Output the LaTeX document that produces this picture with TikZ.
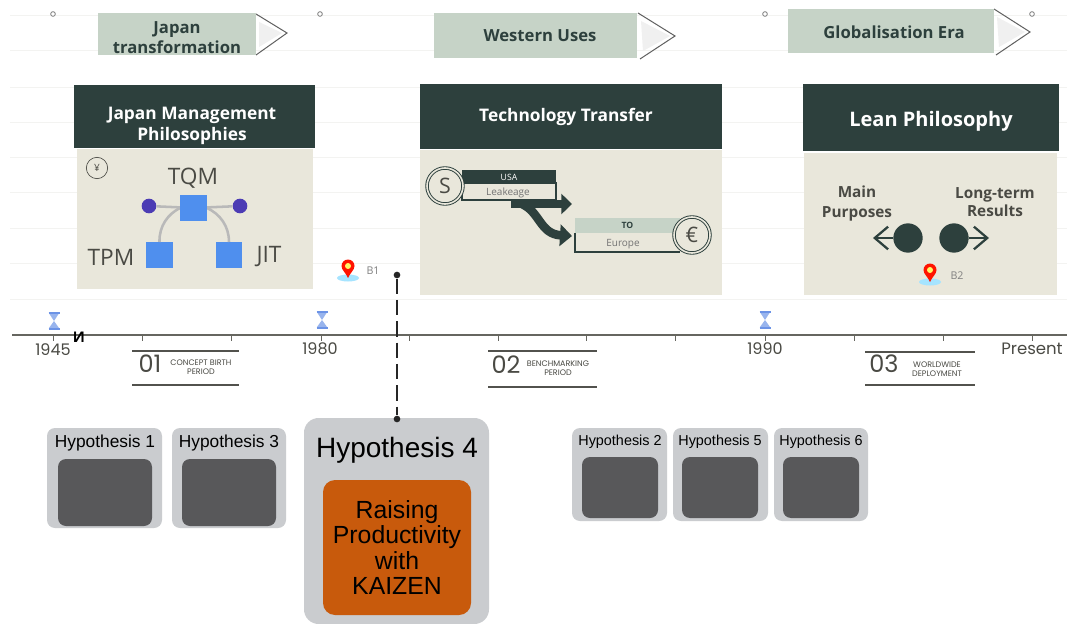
\documentclass[tikz,border=0pt]{standalone}
\usepackage{fontspec}
\setmainfont{Open Sans}
\newfontfamily\popf{Poppins}
\newfontfamily\libf{Liberation Sans}
\usetikzlibrary{arrows.meta}
\definecolor{bannerc}{HTML}{C6D3C7}
\definecolor{darkc}{HTML}{2D403D}
\definecolor{bodyc}{HTML}{E9E7DB}
\definecolor{bluec}{HTML}{4F8FEE}
\definecolor{purplec}{HTML}{4C3CB4}
\definecolor{hypc}{HTML}{CACCCF}
\definecolor{innerc}{HTML}{58585A}
\definecolor{orangec}{HTML}{C85A0C}
\definecolor{gridc}{HTML}{F3F3F1}
\definecolor{textc}{HTML}{4A4A44}
\definecolor{axisc}{HTML}{666660}
\definecolor{glassc}{HTML}{6C93E6}
\newcommand\fsz[2]{\fontsize{#1}{#2}\selectfont}
% \bx[style]{name}{x1}{y1}{x2}{y2}{text}
\newcommand\bx[7][]{\node[rawbox,#1,minimum width={(#5-#3)*0.75pt},minimum height={(#6-#4)*0.75pt}] (#2) at ({(#3+#5)/2},{(#4+#6)/2}) {#7};}
% \pinmark{name}{x}{y}
\newcommand\pinmark[3]{%
  \fill[blue!30!cyan!35] (#2,#3+8) ellipse [x radius=11,y radius=3.5];
  \fill[red!85!orange] (#2,#3+8) .. controls (#2-2,#3+3) and (#2-6.5,#3) .. (#2-6.5,#3-4) arc[start angle=180,end angle=0,x radius=6.5,y radius=-6.5] .. controls (#2+6.5,#3) and (#2+2,#3+3) .. (#2,#3+8) -- cycle;
  \node[circle,fill=yellow!60!white,inner sep=0,minimum size=6*0.75pt] (#1) at (#2,#3-4) {};}
% \glass{name}{x}{y}
\newcommand\glass[3]{%
  \fill[glassc!70] (#2-4.5,#3-7) -- (#2+4.5,#3-7) -- (#2,#3) -- (#2+5,#3+7) -- (#2-5,#3+7) -- (#2,#3) -- cycle;
  \draw[glassc,line width=1.2pt] (#2-5.5,#3-8) -- (#2+5.5,#3-8) (#2-5.5,#3+8) -- (#2+5.5,#3+8);
  \coordinate (#1) at (#2,#3);}
\newcommand\chev[6]{%
  \fill[gray!12] (#1+3,#2+8) -- (#3-5,#4) -- (#5+3,#6-8) -- cycle;
  \draw[gray!75!black,line width=0.75pt] (#1,#2) -- (#3,#4) -- (#5,#6);}
\tikzset{
  rawbox/.style={inner sep=0,outer sep=0,draw=none,align=center},
  banner/.style={fill=bannerc},
  bannert/.style={inner sep=0,align=center,text=darkc,font=\bfseries\fsz{12.5}{15}},
  head/.style={fill=darkc},
  headt/.style={inner sep=0,align=center,text=white,font=\bfseries\fsz{13}{15.75}},
  panel/.style={fill=bodyc},
  lbl/.style={inner sep=0,align=center,text=textc},
  sq/.style={fill=bluec},
  conn/.style={line width=1.9pt,gray!55},
  hyp/.style={fill=hypc,rounded corners=6pt,text=black},
  hypin/.style={fill=innerc,rounded corners=6pt},
  dotn/.style={circle,fill=black!85,inner sep=0,minimum size=5pt},
  tick/.style={axisc,line width=0.5pt},
  rulel/.style={axisc!80!black,line width=1.3pt},
  coin/.style={circle,draw=darkc,line width=0.7pt,fill=bodyc,inner sep=0,minimum size=27pt,double=bodyc,double distance=1.2pt,text=textc,font=\fsz{16}{16}},
}
\begin{document}
\begin{tikzpicture}[x=0.75pt,y=-0.75pt]
\useasboundingbox (0,0) rectangle (1067,624);
\fill[white] (0,0) rectangle (1067,624);
% faint rules
\foreach \yy in {15,50,87,122,157,192,228,263,299}
  \draw[gridc,line width=0.6pt] (10,\yy) -- (1067,\yy);
% small markers
\foreach \nm/\xx in {ma/53,mb/320,mc/765,md/1032}
  \node[circle,draw=gray,line width=0.6pt,fill=white,inner sep=0,minimum size=3.5pt] (\nm) at (\xx,14) {};
% banners
\chev{256}{14}{287}{33}{256}{55}
\chev{638}{13}{675}{36}{640}{59}
\chev{994}{9}{1030}{32}{996}{55}
\bx[banner]{bannerA}{98}{13}{256}{55}{}
\bx[banner]{bannerB}{434}{13}{637}{58}{}
\bx[banner]{bannerC}{788}{9}{994}{53}{}
\node[bannert] (bta) at (177,38) {Japan\\transformation};
\node[bannert] (btb) at (540,36) {Western Uses};
\node[bannert] (btc) at (894,32) {Globalisation Era};
% panels
\bx[panel]{bodyA}{77}{149}{313}{289}{}
\bx[panel]{bodyB}{420}{150}{722}{295}{}
\bx[panel]{bodyC}{804}{153}{1057}{295}{}
\bx[head]{headA}{74}{85}{315}{148}{}
\bx[head]{headB}{420}{84}{722}{149}{}
\bx[head]{headC}{803}{84}{1059}{151}{}
\node[headt] (hta) at (192,126) {Japan Management\\Philosophies};
\node[headt] (htb) at (566,117) {Technology Transfer};
\node[headt,font=\bfseries\fsz{15}{18}] (htc) at (931,121) {Lean Philosophy};
% panel A
\node[circle,draw=textc,line width=0.5pt,inner sep=0,minimum size=16pt,text=textc,font=\fsz{7.5}{8}] (yen) at (97,168) {¥};
\bx[sq]{tqm}{180}{195}{207}{221}{}
\bx[sq]{tpm}{146}{242}{173}{268}{}
\bx[sq]{jit}{216}{242}{242}{268}{}
\node[circle,fill=purplec,inner sep=0,minimum size=11pt] (dl) at (149,206) {};
\node[circle,fill=purplec,inner sep=0,minimum size=11pt] (dr) at (240,206) {};
\draw[conn] (dl) -- (tqm) (tqm) -- (dr);
\draw[conn] (tpm.north) .. controls (159,226) and (168,214) .. (tqm.west);
\draw[conn] (jit.north) .. controls (229,226) and (220,214) .. (tqm.east);
\bx[sq]{tqmt}{180}{195}{207}{221}{}
\node[lbl,font=\fsz{17}{17}] (tqml) at (193,178) {TQM};
\node[lbl,font=\fsz{17}{17}] (tpml) at (111,257) {TPM};
\node[lbl,font=\fsz{17}{17}] (jitl) at (269,257) {JIT};
% panel B
\bx[fill=bodyc,draw=darkc,line width=1pt]{lk}{462}{183}{556}{200}{}
\bx[fill=darkc,text=white,font=\fsz{6.5}{7}]{usa}{462}{170}{556}{184}{USA}
\node[lbl,font=\fsz{7.5}{8},text=gray!90!black] (lkt) at (508,192.5) {Leakeage};
\node[coin] (dollar) at (445,186) {S};
\bx[fill=bodyc]{eu}{575}{233}{680}{252}{}
\draw[darkc,line width=1.2pt] (eu.north west) -- (eu.south west) -- (eu.south east);
\bx[fill=bannerc,text=darkc,font=\bfseries\fsz{6.5}{7}]{to}{575}{218}{680}{233}{TO}
\node[lbl,font=\fsz{7.5}{8},text=gray!90!black] (eut) at (623,244) {Europe};
\node[coin] (euro) at (692,235) {€};
\coordinate (asrc) at (511,204);
\draw[darkc,line width=6.5pt,-{Triangle[length=8pt,width=15pt]}] (asrc) -- (572,204);
\draw[darkc,line width=6.5pt,-{Triangle[length=9pt,width=16pt]}] (522,204) .. controls (540,212) and (540,234) .. (572,236);
% panel C
\node[lbl,font=\bfseries\fsz{11.5}{15}] (mp) at (857,204) {Main\\Purposes};
\node[lbl,font=\bfseries\fsz{11.5}{13.5}] (lt) at (995,202) {Long-term\\Results};
\node[circle,fill=darkc,inner sep=0,minimum size=22pt] (cl) at (908,238) {};
\node[circle,fill=darkc,inner sep=0,minimum size=22pt] (cr) at (954,238) {};
\coordinate (al) at (873,238);
\coordinate (ar) at (989,238);
\draw[darkc,line width=1.7pt,-{Straight Barb[length=10pt,width=17pt,line width=1.7pt]}] (cl) -- (al);
\draw[darkc,line width=1.7pt,-{Straight Barb[length=10pt,width=17pt,line width=1.7pt]}] (cr) -- (ar);
% pins
\pinmark{pinA}{348}{270}
\node[lbl,font=\fsz{8}{8},text=gray] (b1) at (373,271) {B1};
\pinmark{pinB}{930}{274}
\node[lbl,font=\fsz{8}{8},text=gray] (b2) at (957,276) {B2};
% axis
\coordinate (axl) at (12,335);
\coordinate (axr) at (1067,335);
\draw[axisc,line width=0.9pt] (axl) -- (axr);
\foreach \xx in {53,142,231,321,409,498,586,675,765,854,943,1032}
  \draw[tick] (\xx,335) -- (\xx,341);
\glass{ga}{54}{321}
\glass{gb}{322}{320}
\glass{gc}{765}{320}
\node[lbl,font=\popf\fsz{12}{12}] (y1) at (53,350) {1945};
\node[lbl,font=\popf\fsz{12}{12}] (y2) at (320,349) {1980};
\node[lbl,font=\popf\fsz{12}{12}] (y3) at (765,349) {1990};
\node[lbl,font=\popf\fsz{12.4}{12.4}] (y4) at (1032,349) {Present};
\node[inner sep=0,font=\bfseries\fsz{11}{11},text=black] (cyr) at (79,337) {И};
% period labels
\foreach \xa/\xb/\ya/\yb in {132/239/351/385,488/597/351/387,865/975/352/385}{
  \draw[rulel] (\xa,\ya) -- (\xb,\ya);
  \draw[rulel] (\xa,\yb) -- (\xb,\yb);
}
\node[lbl,font=\popf\fsz{18}{18}] (n1) at (150,364) {01};
\node[lbl,font=\popf\fsz{6}{6.8}] (t1) at (201,367) {CONCEPT BIRTH\\PERIOD};
\node[lbl,font=\popf\fsz{18}{18}] (n2) at (506,365) {02};
\node[lbl,font=\popf\fsz{6}{6.8}] (t2) at (558,368) {BENCHMARKING\\PERIOD};
\node[lbl,font=\popf\fsz{18}{18}] (n3) at (884,364) {03};
\node[lbl,font=\popf\fsz{6}{6.8}] (t3) at (937,369) {WORLDWIDE\\DEPLOYMENT};
% hypotheses
\bx[hyp]{h1}{47}{428}{162}{528}{}
\bx[hyp]{h3}{172}{428}{286}{528}{}
\bx[hyp,rounded corners=11pt]{h4}{304}{418}{489}{624}{}
\bx[hyp]{h2}{572}{428}{667}{521}{}
\bx[hyp]{h5}{673}{428}{768}{521}{}
\bx[hyp]{h6}{774}{428}{868}{521}{}
\bx[hypin]{i1}{58}{459}{152}{526}{}
\bx[hypin]{i3}{182}{459}{276}{526}{}
\bx[hypin]{i2}{582}{457}{658}{518}{}
\bx[hypin]{i5}{682}{457}{758}{518}{}
\bx[hypin]{i6}{783}{457}{859}{518}{}
\bx[fill=orangec,rounded corners=9pt,text=black,font=\libf\fsz{18.6}{19.1}]{i4}{323}{480}{471}{615}{Raising\\Productivity\\with\\KAIZEN}
\node[inner sep=0,font=\libf\fsz{13}{13}] (l1) at (105,443) {Hypothesis 1};
\node[inner sep=0,font=\libf\fsz{13}{13}] (l3) at (229,443) {Hypothesis 3};
\node[inner sep=0,font=\libf\fsz{21}{21}] (l4) at (397,450) {Hypothesis 4};
\node[inner sep=0,font=\libf\fsz{10.8}{11}] (l2) at (620,442) {Hypothesis 2};
\node[inner sep=0,font=\libf\fsz{10.8}{11}] (l5) at (720,442) {Hypothesis 5};
\node[inner sep=0,font=\libf\fsz{10.8}{11}] (l6) at (821,442) {Hypothesis 6};
% connector
\node[dotn] (da) at (397,275) {};
\node[dotn] (db) at (397,419) {};
\draw[black!85,line width=1.9pt,dash pattern=on 11.5pt off 4.5pt] (da) -- (db);
\end{tikzpicture}
\end{document}
